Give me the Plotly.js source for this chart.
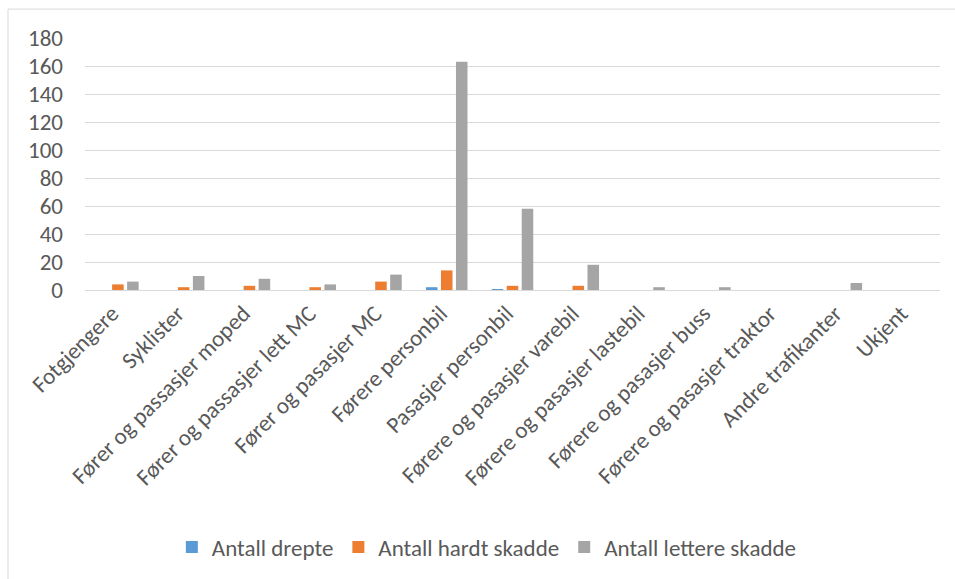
<!DOCTYPE html>
<html><head><meta charset="utf-8">
<script src="https://cdn.plot.ly/plotly-3.0.1.min.js"></script>
<style>body{margin:0;background:#fff}#c{width:955px;height:579px}</style>
</head><body><div id="c"></div>
<script>
const categories = ["Fotgjengere","Syklister","Fører og passasjer moped","Fører og passasjer lett MC","Fører og pasasjer MC","Førere personbil","Pasasjer personbil","Førere og pasasjer varebil","Førere og pasasjer lastebil","Førere og pasasjer buss","Førere og pasasjer traktor","Andre trafikanter","Ukjent"];
const drepte = [0,0,0,0,0,2,0.4,0,0,0,0,0,0];
const hardtSkadde = [4,2,3,2,6,14,3,3,0,0,0,0,0];
const lettereSkadde = [6,10,8,4,11,163,58,18,2,2,0,5,0];
const seriesNames = ["Antall drepte","Antall hardt skadde","Antall lettere skadde"];
const colors = ["#5b9bd5","#ed7d31","#a5a5a5"];
const font = "Carlito, Lato, sans-serif";
const data = [drepte, hardtSkadde, lettereSkadde].map((v,i)=>({
  type:"bar", x:categories, y:v, name:seriesNames[i], marker:{color:colors[i]}
}));
const layout = {
  width:955, height:579,
  margin:{l:85, r:15, t:38, b:288},
  barmode:"group", bargap:0.316, bargroupgap:0.23,
  font:{family:font, size:23, color:"#595959"},
  xaxis:{tickangle:-45, showgrid:false, showline:true, linecolor:"#d9d9d9", linewidth:1, ticks:"", tickfont:{size:23, color:"#595959"}, ticklabelshift:-6},
  yaxis:{range:[0,180], dtick:20, gridcolor:"#d9d9d9", showline:false, zeroline:true, zerolinecolor:"#d9d9d9", ticks:"", tickfont:{size:23, color:"#595959"}, ticklabelstandoff:21},
  showlegend:true,
  legend:{orientation:"h", x:0.47, xanchor:"center", y:-1.012, yanchor:"middle", font:{size:23, color:"#595959"}, itemwidth:30, traceorder:"normal"},
  shapes:[{type:"rect", xref:"paper", yref:"paper", x0:(8-85)/855, x1:(956-85)/855, y0:(291-582)/253, y1:(291-9)/253, line:{color:"#d9d9d9", width:1}}],
  plot_bgcolor:"#fff", paper_bgcolor:"#fff"
};
Plotly.newPlot("c", data, layout, {displayModeBar:false});
</script></body></html>
